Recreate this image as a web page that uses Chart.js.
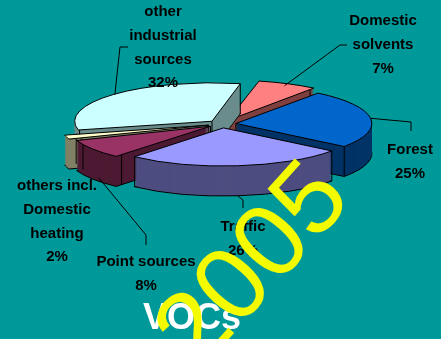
<!DOCTYPE html>
<html>
<head>
<meta charset="utf-8">
<script src="https://cdn.jsdelivr.net/npm/chart.js@4"></script>
<style>
  html, body { margin: 0; padding: 0; background: #009999; }
  canvas { display: block; }
</style>
</head>
<body>
<canvas id="voc" width="441" height="339"></canvas>
<script>
// VOC emission sources, share in percent (clockwise from the top)
const categories = ['Domestic\nsolvents', 'Forest', 'Traffic', 'Point sources',
  'others incl.\nDomestic\nheating', 'other\nindustrial\nsources'];
const shares = [7, 25, 26, 8, 2, 32];

const topColors = ['#ff8080', '#0066cc', '#9999ff', '#993366', '#ffffcc', '#ccffff'];
const sideColors = ['#804040', '#003366', '#4d4d80', '#4d1a33', '#808066', '#6a8c8c'];

// where each label block sits and how its leader line bends
const labelLayout = [
  { x: 383, y: 21, leader: [[340, 45], [347, 45]] },
  { x: 410, y: 150, leader: [[411, 122], [411, 131]] },
  { x: 243, y: 227, leader: [[243, 200], [243, 208]] },
  { x: 146, y: 262, leader: [[146, 235], [146, 245]] },
  { x: 57, y: 186, leader: null },
  { x: 163, y: 12, leader: [[120, 47], [128, 47]] }
];

const TILT = 0.28;   // vertical squash of the pie
const DEPTH = 30;    // wall height in px
const LABEL_FONT = 'bold 15px "Liberation Sans", Arial, sans-serif';

function project(ctx, arc) {
  ctx.translate(arc.x, arc.y);
  ctx.scale(1, TILT);
  ctx.translate(-arc.x, -arc.y);
}

function explodeOf(arc) {
  return (arc.options.offset || 0) / 4;
}

// screen point on the rim of a slice at a given angle
function rimPoint(arc, angle, drop) {
  const mid = (arc.startAngle + arc.endAngle) / 2;
  const e = explodeOf(arc);
  const r = arc.outerRadius;
  return {
    x: arc.x + Math.cos(mid) * e + Math.cos(angle) * r,
    y: arc.y + TILT * (Math.sin(mid) * e + Math.sin(angle) * r) + (drop || 0)
  };
}

function tipPoint(arc, drop) {
  const mid = (arc.startAngle + arc.endAngle) / 2;
  const e = explodeOf(arc);
  return { x: arc.x + Math.cos(mid) * e, y: arc.y + TILT * Math.sin(mid) * e + (drop || 0) };
}

function fillSlice(ctx, arc, color, drop, stroke) {
  const ghost = Object.create(arc);
  ghost.options = Object.assign({}, arc.options, { backgroundColor: color, borderWidth: 0 });
  ctx.save();
  ctx.translate(0, drop);
  project(ctx, arc);
  ghost.draw(ctx);
  ctx.restore();
  if (stroke) {
    ctx.lineWidth = 1;
    ctx.strokeStyle = '#000';
    ctx.stroke();
  }
}

const pie3d = {
  id: 'pie3d',
  beforeDatasetsDraw(chart) {
    const ctx = chart.ctx;
    const arcs = chart.getDatasetMeta(0).data;
    const order = arcs.map((a, i) => i).sort((a, b) => {
      const ma = (arcs[a].startAngle + arcs[a].endAngle) / 2;
      const mb = (arcs[b].startAngle + arcs[b].endAngle) / 2;
      return Math.sin(ma) - Math.sin(mb);
    });

    order.forEach(i => {
      const arc = arcs[i];
      const s = arc.startAngle, e = arc.endAngle;
      fillSlice(ctx, arc, sideColors[i], DEPTH, true);
      for (let d = DEPTH - 1; d > 0; d--) fillSlice(ctx, arc, sideColors[i], d, false);

      // vertical edges on the visible corners
      const edges = [];
      if (Math.sin(s) > 0 || Math.cos(s) < 0) edges.push(p => rimPoint(arc, s, p));
      if (Math.sin(e) > 0 || Math.cos(e) > 0) edges.push(p => rimPoint(arc, e, p));
      if (Math.cos(s) < 0 || Math.cos(e) > 0) edges.push(p => tipPoint(arc, p));
      ctx.save();
      ctx.strokeStyle = '#000';
      ctx.lineWidth = 1;
      edges.forEach(f => {
        const a = f(0), b = f(DEPTH);
        ctx.beginPath();
        ctx.moveTo(a.x, a.y);
        ctx.lineTo(b.x, b.y);
        ctx.stroke();
      });
      ctx.restore();

      fillSlice(ctx, arc, topColors[i], 0, true);
    });
    return false;
  },
  afterDraw(chart) {
    const ctx = chart.ctx;
    const arcs = chart.getDatasetMeta(0).data;
    ctx.save();
    ctx.font = LABEL_FONT;
    ctx.fillStyle = '#000';
    ctx.strokeStyle = '#000';
    ctx.lineWidth = 1;
    ctx.textAlign = 'center';
    ctx.textBaseline = 'middle';
    arcs.forEach((arc, i) => {
      const lay = labelLayout[i];
      if (lay.leader) {
        const mid = (arc.startAngle + arc.endAngle) / 2;
        const start = rimPoint(arc, mid, Math.sin(mid) > 0.3 ? DEPTH : 0);
        ctx.beginPath();
        ctx.moveTo(start.x, start.y);
        lay.leader.forEach(p => ctx.lineTo(p[0], p[1]));
        ctx.stroke();
      }
      const lines = categories[i].split('\n').concat(shares[i] + '%');
      lines.forEach((t, k) => ctx.fillText(t, lay.x, lay.y + k * 23.7));
    });

    ctx.fillStyle = '#ffffff';
    ctx.font = 'bold 36px "Liberation Sans", Arial, sans-serif';
    ctx.textBaseline = 'alphabetic';
    ctx.fillText('VOCs', 192, 329);

    // year stamp across the lower right
    ctx.translate(199, 372);
    ctx.rotate(-48 * Math.PI / 180);
    ctx.fillStyle = '#f4fb00';
    ctx.font = '104px "Liberation Sans", Arial, sans-serif';
    ctx.textAlign = 'left';
    ctx.fillText('2005', 0, 0);
    ctx.restore();
  }
};

new Chart(document.getElementById('voc'), {
  type: 'pie',
  data: {
    labels: categories,
    datasets: [{
      data: shares,
      backgroundColor: topColors,
      borderWidth: 0,
      offset: 56
    }]
  },
  options: {
    responsive: false,
    animation: false,
    events: [],
    devicePixelRatio: 1,
    rotation: 12,
    radius: 136,
    layout: { padding: { left: 3, right: 0, top: 0, bottom: 91 } },
    plugins: { legend: { display: false }, tooltip: { enabled: false } }
  },
  plugins: [pie3d]
});
</script>
</body>
</html>
